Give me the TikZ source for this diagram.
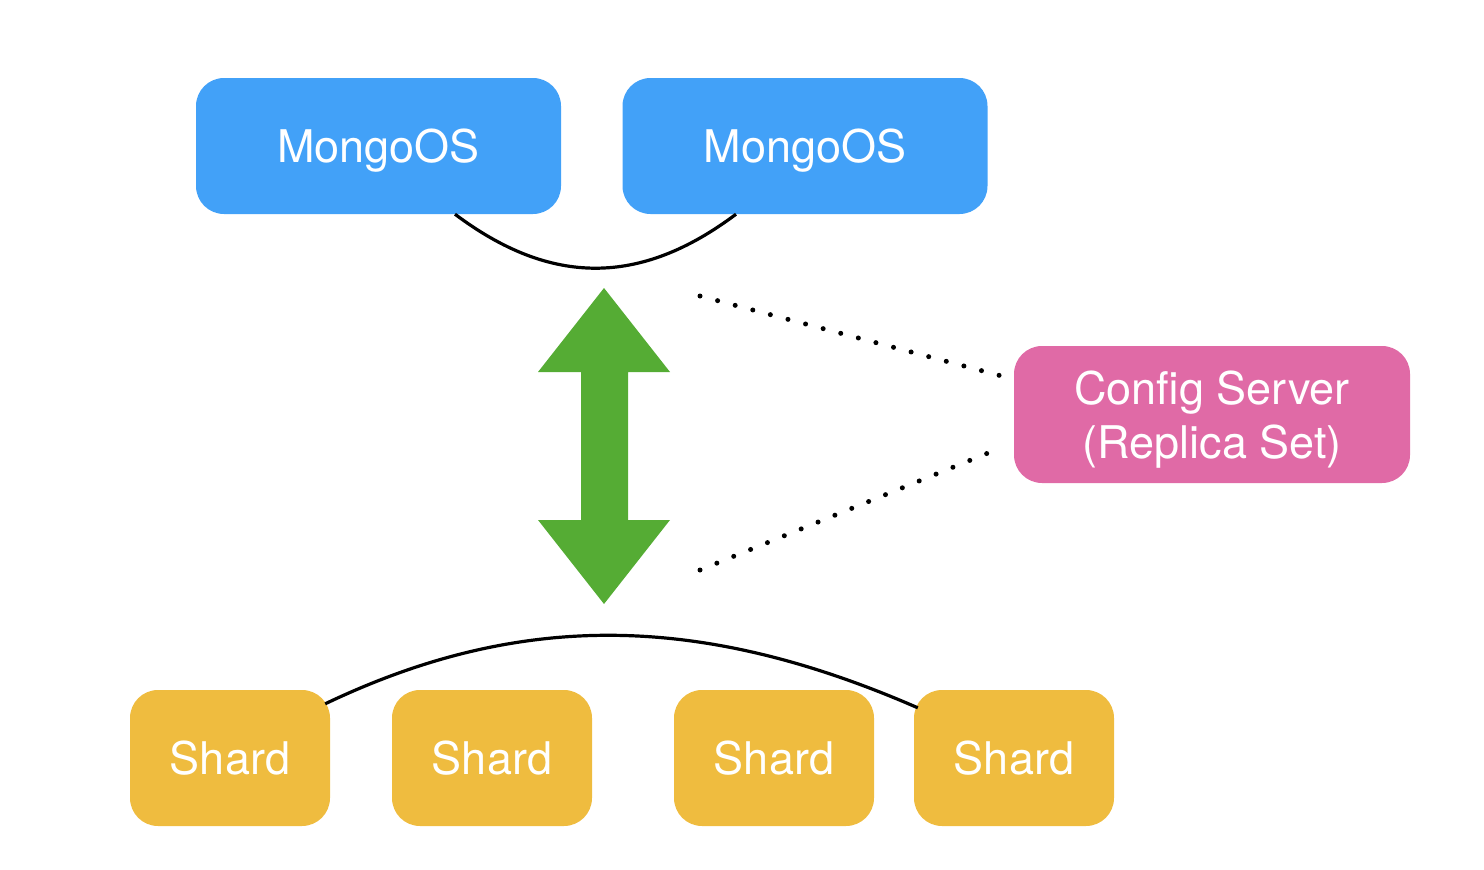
\documentclass[tikz,border=0pt]{standalone}
\usepackage{fontspec}
\setmainfont{TeX Gyre Heros}
\usetikzlibrary{calc}
\definecolor{mongoblue}{RGB}{66,161,248}
\definecolor{cfgpink}{RGB}{224,106,166}
\definecolor{shardyellow}{RGB}{239,188,63}
\definecolor{arrowgreen}{RGB}{85,172,52}
\tikzset{
  box/.style={rectangle, rounded corners=28pt, inner sep=0pt, text=white,
    font=\fontsize{45}{54}\selectfont, align=center, text depth=0pt},
  mongobox/.style={box, fill=mongoblue, minimum width=365pt, minimum height=136pt},
  shardbox/.style={box, fill=shardyellow, minimum width=200pt, minimum height=136pt},
  cfgbox/.style={box, fill=cfgpink, minimum width=396pt, minimum height=137pt},
  link/.style={draw=black, line width=3.2pt},
  dotlink/.style={draw=black, line width=5pt, line cap=round, dash pattern=on 0pt off 18.2pt},
}
\begin{document}
\begin{tikzpicture}[x=1pt,y=-1pt]
\useasboundingbox (0,0) rectangle (1484,870);
% nodes
\node[mongobox] (m1) at (378.5,146) {MongoOS};
\node[mongobox] (m2) at (805,146) {MongoOS};
\node[cfgbox] (cfg) at (1212,414.5) {Config Server\\(Replica Set)};
\node[shardbox] (s1) at (230,758) {Shard};
\node[shardbox] (s2) at (492,758) {Shard};
\node[shardbox] (s3) at (774,758) {Shard};
\node[shardbox] (s4) at (1014,758) {Shard};
% top curve between the two MongoOS
\draw[link] ($(m1.south)+(76.5,0)$) .. controls +(96,72) and +(-96,72) .. ($(m2.south)+(-69,0)$);
% bottom arc over the shards
\draw[link] ($(s1.north east)+(-5,14)$) .. controls +(195,-93) and +(-218,-95) .. ($(s4.north west)+(4,18)$);
% green double arrow
\fill[arrowgreen] (604,288) -- (670,372) -- (628,372) -- (628,520) -- (670,520)
  -- (604,604) -- (538,520) -- (581,520) -- (581,372) -- (538,372) -- cycle;
% dotted links to the config server
\coordinate (d1) at (700,296);
\coordinate (d2) at (700,570);
\draw[dotlink] (d1) -- ($(cfg.west)+(-14,-39)$);
\draw[dotlink] (d2) -- ($(cfg.west)+(-27,39)$);
\end{tikzpicture}
\end{document}
